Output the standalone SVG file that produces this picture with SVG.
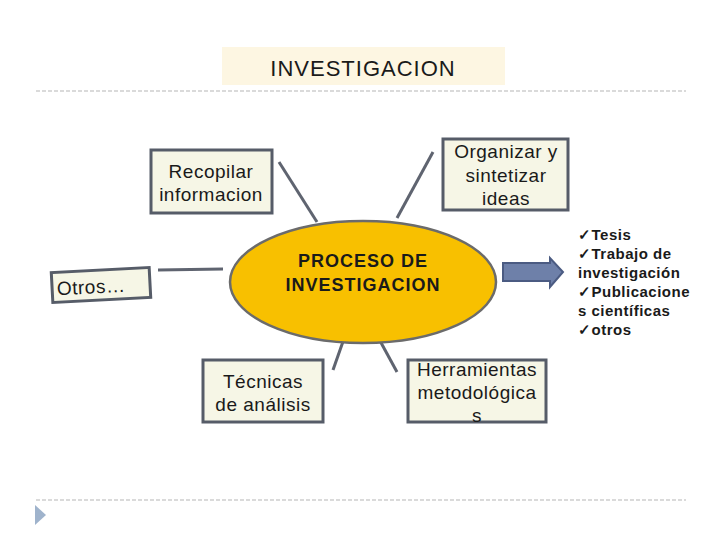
<svg xmlns="http://www.w3.org/2000/svg" width="720" height="540" viewBox="0 0 720 540">
<style>
.box{fill:#f6f6e6;stroke:#565c68;stroke-width:3}
.t{font-family:"Liberation Sans",Arial,sans-serif;font-size:19px;letter-spacing:0.5px;fill:#1a1a1a;text-anchor:middle}
.c{stroke:#5f6470;stroke-width:3;fill:none}
.dash{stroke:#b5b5b5;stroke-width:1;stroke-dasharray:4,2}
.l{font-family:"Liberation Sans",Arial,sans-serif;font-size:15px;letter-spacing:0.5px;font-weight:bold;fill:#1a1a1a}
</style>
<rect width="720" height="540" fill="#ffffff"/>
<g id="title">
<rect x="222" y="47" width="283" height="38" fill="#fdf6e2"/>
<text x="363" y="76" class="t" style="font-size:22px;letter-spacing:1px">INVESTIGACION</text>
</g>
<line x1="36" y1="91" x2="686" y2="91" class="dash"/>
<line x1="36" y1="500" x2="686" y2="500" class="dash"/>
<polygon points="35,505 46,515 35,525" fill="#9fb3cc"/>
<g id="connectors">
<line x1="279" y1="162" x2="317" y2="222" class="c"/>
<line x1="433" y1="152" x2="397" y2="218" class="c"/>
<line x1="158" y1="270" x2="223" y2="269" class="c"/>
<line x1="346" y1="333" x2="333" y2="370" class="c"/>
<line x1="373" y1="328" x2="397" y2="372" class="c"/>
<polygon points="503,263 550,263 550,258 563,272 550,287 550,281 503,281" fill="#6e80a9" stroke="#4b5b82" stroke-width="2"/>
</g>
<g id="recopilar">
<rect x="151" y="150" width="121" height="63" class="box"/>
<text x="211" y="178" class="t">Recopilar</text>
<text x="211" y="201" class="t">informacion</text>
</g>
<g id="organizar">
<rect x="443" y="139" width="125" height="71" class="box"/>
<text x="506" y="158" class="t">Organizar y</text>
<text x="506" y="182" class="t">sintetizar</text>
<text x="506" y="205" class="t">ideas</text>
</g>
<g id="proceso">
<ellipse cx="363" cy="282" rx="133" ry="61" fill="#f8c000" stroke="#6b6b6b" stroke-width="2.5"/>
<text x="363" y="267" class="t" style="font-weight:bold;font-size:18px;letter-spacing:1px">PROCESO DE</text>
<text x="363" y="291" class="t" style="font-weight:bold;font-size:18px;letter-spacing:1px">INVESTIGACION</text>
</g>
<g id="otros" transform="rotate(-3 101 285)">
<rect x="52" y="270" width="98" height="30" class="box" stroke-width="2.5"/>
<text x="91" y="293" class="t">Otros…</text>
</g>
<g id="tecnicas">
<rect x="203" y="360" width="120" height="62" class="box"/>
<text x="263" y="388" class="t">Técnicas</text>
<text x="263" y="411" class="t">de análisis</text>
</g>
<g id="herramientas">
<rect x="408" y="360" width="138" height="62" class="box"/>
<text x="477" y="376" class="t">Herramientas</text>
<text x="477" y="399" class="t">metodológica</text>
<text x="477" y="422" class="t">s</text>
</g>
<g id="resultados">
<text x="578" y="240" class="l">✓Tesis</text>
<text x="578" y="259" class="l">✓Trabajo de</text>
<text x="578" y="278" class="l">investigación</text>
<text x="578" y="297" class="l">✓Publicacione</text>
<text x="578" y="316" class="l">s científicas</text>
<text x="578" y="335" class="l">✓otros</text>
</g>
</svg>
